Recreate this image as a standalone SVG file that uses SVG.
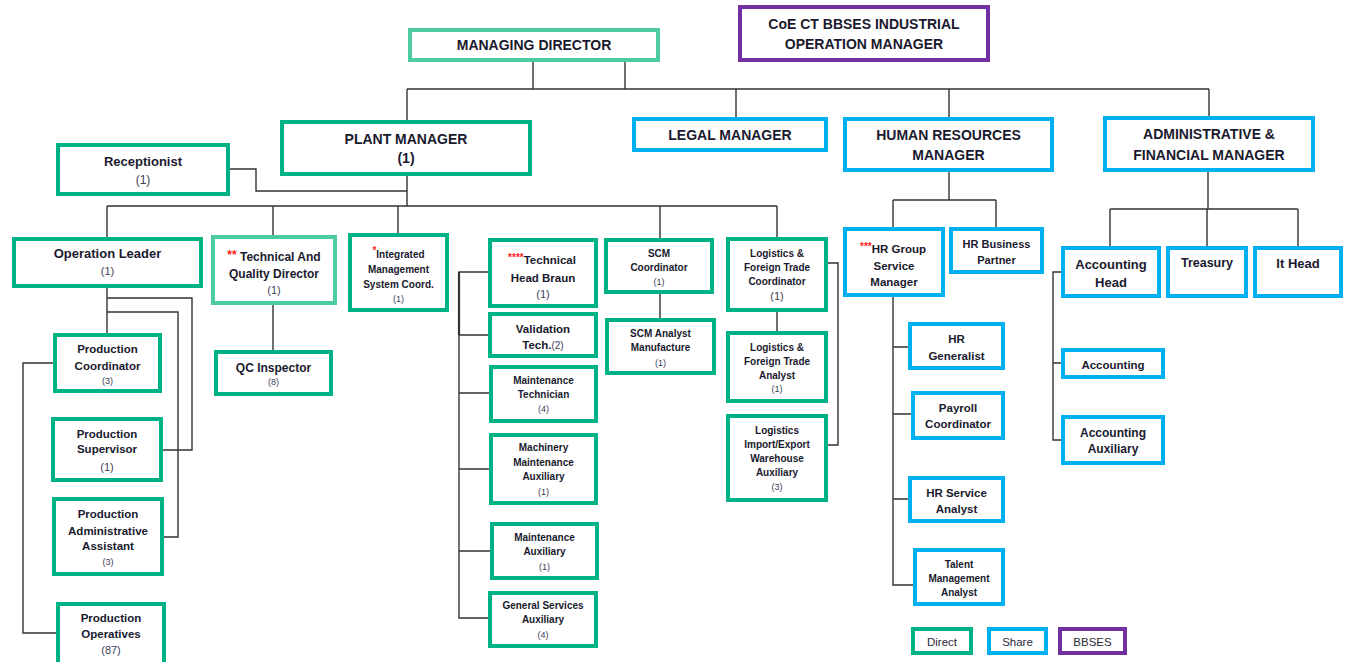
<svg xmlns="http://www.w3.org/2000/svg" width="1350" height="662" viewBox="0 0 1350 662">
<style>
rect{fill:#fff;stroke-width:4}
.d{stroke:#00b386}.l{stroke:#4ccaa0}.s{stroke:#00b0f0}.p{stroke:#7030a0}
text{font-family:"Liberation Sans",Arial,sans-serif;fill:#1a1a2e;text-anchor:middle;font-weight:bold}
.h{font-size:14px}
.c{font-weight:normal;fill:#3d3d55}
.r{fill:#ff2020}
.lg{font-weight:normal;font-size:11.5px;fill:#2a2a3a}
#conn path{fill:none;stroke:#333;stroke-width:1.4}
</style>
<rect x="0" y="0" width="1350" height="662" style="fill:#fff;stroke:none"/>
<g id="conn">
<path d="M533,62V89M625,62V89M407,89H1209M407,89V120M736,89V117M949,89V117M1209,89V116"/>
<path d="M407,176V206M230,169H256V191H407M107,206H777M107,206V237M273,206V235M398,206V233M660,206V238M777,206V237"/>
<path d="M273,305V350"/>
<path d="M107,288V333M107,298H192V450H163M107,312H178V537H164M53,363H23V633H56"/>
<path d="M488,272H459V618H488M459,335H488M459,393H489M459,469H489M459,551H490"/>
<path d="M459,272V335" style="stroke-width:2.2"/>
<path d="M660,294V318M777,312V331M828,263H838V445H828"/>
<path d="M949,172V200M893,200H996M893,200V227M996,200V227M893,297V585H913M893,347H908M893,414H911M893,499H908"/>
<path d="M1208,172V209M1110,209H1298M1110,209V246M1207,209V246M1298,209V246M1061,272H1053V440H1061M1053,363H1061"/>
</g>
<g id="managing-director"><rect class="l" x="410" y="30" width="248" height="30"/><text class="h" x="534" y="50">MANAGING DIRECTOR</text></g>
<g id="coe-bbses"><rect class="p" x="740" y="7" width="248" height="53"/><text class="h" x="864" y="28.5">CoE CT BBSES INDUSTRIAL</text><text class="h" x="864" y="49">OPERATION MANAGER</text></g>
<g id="plant-manager"><rect class="d" x="282" y="122" width="248" height="52"/><text class="h" x="406" y="143.5">PLANT MANAGER</text><text class="h" x="406" y="163">(1)</text></g>
<g id="legal-manager"><rect class="s" x="634" y="119" width="192" height="31"/><text class="h" x="730" y="140">LEGAL MANAGER</text></g>
<g id="hr-manager"><rect class="s" x="845" y="119" width="207" height="51"/><text class="h" x="948.5" y="140">HUMAN RESOURCES</text><text class="h" x="948.5" y="160">MANAGER</text></g>
<g id="admin-financial-manager"><rect class="s" x="1105" y="118" width="208" height="52"/><text class="h" x="1209" y="139">ADMINISTRATIVE &amp;</text><text class="h" x="1209" y="160">FINANCIAL MANAGER</text></g>
<g id="receptionist"><rect class="d" x="58" y="145" width="170" height="49"/><text x="143" y="165.5" font-size="13">Receptionist</text><text class="c" x="143" y="184" font-size="12">(1)</text></g>
<g id="operation-leader"><rect class="d" x="14" y="239" width="187" height="47"/><text x="107.5" y="258" font-size="13">Operation Leader</text><text class="c" x="107.5" y="275" font-size="11">(1)</text></g>
<g id="technical-quality-director"><rect class="l" x="213" y="237" width="122" height="66"/><text x="274" y="260.5" font-size="12"><tspan class="r" dy="-2">**</tspan><tspan dy="2"> Technical And</tspan></text><text x="274" y="278" font-size="12">Quality Director</text><text class="c" x="274" y="294" font-size="11">(1)</text></g>
<g id="qc-inspector"><rect class="d" x="216" y="352" width="115" height="42"/><text x="273.5" y="371.5" font-size="12">QC Inspector</text><text class="c" x="273.5" y="385" font-size="9">(8)</text></g>
<g id="production-coordinator"><rect class="d" x="55" y="335" width="105" height="56"/><text x="107.5" y="353" font-size="11.5">Production</text><text x="107.5" y="369.5" font-size="11.5">Coordinator</text><text class="c" x="107.5" y="384" font-size="9">(3)</text></g>
<g id="production-supervisor"><rect class="d" x="53" y="419" width="108" height="61"/><text x="107" y="438" font-size="11.5">Production</text><text x="107" y="453" font-size="11.5">Supervisor</text><text class="c" x="107" y="471" font-size="11">(1)</text></g>
<g id="production-admin-assistant"><rect class="d" x="54" y="499" width="108" height="75"/><text x="108" y="518" font-size="11.5">Production</text><text x="108" y="534.5" font-size="11.5">Administrative</text><text x="108" y="550" font-size="11.5">Assistant</text><text class="c" x="108" y="565" font-size="9">(3)</text></g>
<g id="production-operatives"><rect class="d" x="58" y="604" width="106" height="64"/><text x="111" y="621.5" font-size="11.5">Production</text><text x="111" y="638" font-size="11.5">Operatives</text><text class="c" x="111" y="654" font-size="11">(87)</text></g>
<g id="integrated-management"><rect class="d" x="350" y="235" width="97" height="75"/><text x="398.5" y="258" font-size="10"><tspan class="r" dy="-4">*</tspan><tspan dy="4">Integrated</tspan></text><text x="398.5" y="273" font-size="10">Management</text><text x="398.5" y="288" font-size="10">System Coord.</text><text class="c" x="398.5" y="302" font-size="9">(1)</text></g>
<g id="technical-head-braun"><rect class="d" x="490" y="240" width="106" height="66"/><text x="542" y="264" font-size="11.5"><tspan class="r" dy="-3" font-size="10">****</tspan><tspan dy="3">Technical</tspan></text><text x="543" y="281.5" font-size="11.5">Head Braun</text><text class="c" x="543" y="297.5" font-size="11">(1)</text></g>
<g id="validation-tech"><rect class="d" x="490" y="314" width="106" height="42"/><text x="543" y="332.5" font-size="11.5">Validation</text><text x="543" y="349" font-size="11.5">Tech.<tspan class="c" font-size="10">(2)</tspan></text></g>
<g id="maintenance-technician"><rect class="d" x="491" y="367" width="105" height="54"/><text x="543.5" y="384" font-size="10">Maintenance</text><text x="543.5" y="398" font-size="10">Technician</text><text class="c" x="543.5" y="412" font-size="9">(4)</text></g>
<g id="machinery-maintenance-auxiliary"><rect class="d" x="491" y="435" width="105" height="68"/><text x="543.5" y="451" font-size="10">Machinery</text><text x="543.5" y="466" font-size="10">Maintenance</text><text x="543.5" y="480" font-size="10">Auxiliary</text><text class="c" x="543.5" y="495" font-size="9">(1)</text></g>
<g id="maintenance-auxiliary"><rect class="d" x="492" y="524" width="105" height="54"/><text x="544.5" y="541" font-size="10">Maintenance</text><text x="544.5" y="555" font-size="10">Auxiliary</text><text class="c" x="544.5" y="570" font-size="9">(1)</text></g>
<g id="general-services-auxiliary"><rect class="d" x="490" y="593" width="106" height="53"/><text x="543" y="609" font-size="10">General Services</text><text x="543" y="622.5" font-size="10">Auxiliary</text><text class="c" x="543" y="638" font-size="9">(4)</text></g>
<g id="scm-coordinator"><rect class="d" x="606" y="240" width="106" height="52"/><text x="659" y="256.5" font-size="10">SCM</text><text x="659" y="270.5" font-size="10">Coordinator</text><text class="c" x="659" y="285" font-size="9">(1)</text></g>
<g id="scm-analyst"><rect class="d" x="607" y="320" width="107" height="53"/><text x="660.5" y="336.5" font-size="10">SCM Analyst</text><text x="660.5" y="350.5" font-size="10">Manufacture</text><text class="c" x="660.5" y="366" font-size="9">(1)</text></g>
<g id="logistics-coordinator"><rect class="d" x="728" y="239" width="98" height="71"/><text x="777" y="256.5" font-size="10">Logistics &amp;</text><text x="777" y="271" font-size="10">Foreign Trade</text><text x="777" y="285" font-size="10">Coordinator</text><text class="c" x="777" y="300" font-size="11">(1)</text></g>
<g id="logistics-analyst"><rect class="d" x="728" y="333" width="98" height="68"/><text x="777" y="350.5" font-size="10">Logistics &amp;</text><text x="777" y="364.5" font-size="10">Foreign Trade</text><text x="777" y="378.5" font-size="10">Analyst</text><text class="c" x="777" y="392" font-size="9">(1)</text></g>
<g id="logistics-warehouse-auxiliary"><rect class="d" x="728" y="416" width="98" height="84"/><text x="777" y="433.5" font-size="10">Logistics</text><text x="777" y="448" font-size="10">Import/Export</text><text x="777" y="461.5" font-size="10">Warehouse</text><text x="777" y="476" font-size="10">Auxiliary</text><text class="c" x="777" y="490" font-size="9">(3)</text></g>
<g id="hr-group-service-manager"><rect class="s" x="845" y="229" width="98" height="66"/><text x="893" y="253" font-size="11.5"><tspan class="r" dy="-3" font-size="10">***</tspan><tspan dy="3">HR Group</tspan></text><text x="894" y="270" font-size="11.5">Service</text><text x="894" y="286" font-size="11.5">Manager</text></g>
<g id="hr-business-partner"><rect class="s" x="951" y="229" width="91" height="43"/><text x="996.5" y="248" font-size="11">HR Business</text><text x="996.5" y="264" font-size="11">Partner</text></g>
<g id="hr-generalist"><rect class="s" x="910" y="324" width="93" height="44"/><text x="956.5" y="343" font-size="11.5">HR</text><text x="956.5" y="360" font-size="11.5">Generalist</text></g>
<g id="payroll-coordinator"><rect class="s" x="913" y="393" width="90" height="45"/><text x="958" y="412" font-size="11.5">Payroll</text><text x="958" y="428" font-size="11.5">Coordinator</text></g>
<g id="hr-service-analyst"><rect class="s" x="910" y="478" width="93" height="43"/><text x="956.5" y="496.5" font-size="11.5">HR Service</text><text x="956.5" y="512.5" font-size="11.5">Analyst</text></g>
<g id="talent-management-analyst"><rect class="s" x="915" y="550" width="88" height="54"/><text x="959" y="567.5" font-size="10">Talent</text><text x="959" y="581.5" font-size="10">Management</text><text x="959" y="595.5" font-size="10">Analyst</text></g>
<g id="accounting-head"><rect class="s" x="1063" y="248" width="96" height="48"/><text x="1111" y="268.5" font-size="13">Accounting</text><text x="1111" y="286.5" font-size="13">Head</text></g>
<g id="treasury"><rect class="s" x="1168" y="248" width="78" height="48"/><text x="1207" y="266.5" font-size="12.5">Treasury</text></g>
<g id="it-head"><rect class="s" x="1255" y="248" width="86" height="48"/><text x="1298" y="268" font-size="13">It Head</text></g>
<g id="accounting"><rect class="s" x="1063" y="350" width="100" height="27"/><text x="1113" y="368.5" font-size="11.5">Accounting</text></g>
<g id="accounting-auxiliary"><rect class="s" x="1063" y="417" width="100" height="46"/><text x="1113" y="437" font-size="12">Accounting</text><text x="1113" y="453" font-size="12">Auxiliary</text></g>
<g id="legend-direct"><rect class="d" x="913" y="629" width="58" height="24"/><text class="lg" x="942" y="645.5">Direct</text></g>
<g id="legend-share"><rect class="s" x="989" y="629" width="57" height="24"/><text class="lg" x="1017.5" y="645.5">Share</text></g>
<g id="legend-bbses"><rect class="p" x="1060" y="629" width="65" height="24"/><text class="lg" x="1092.5" y="645.5">BBSES</text></g>
</svg>
